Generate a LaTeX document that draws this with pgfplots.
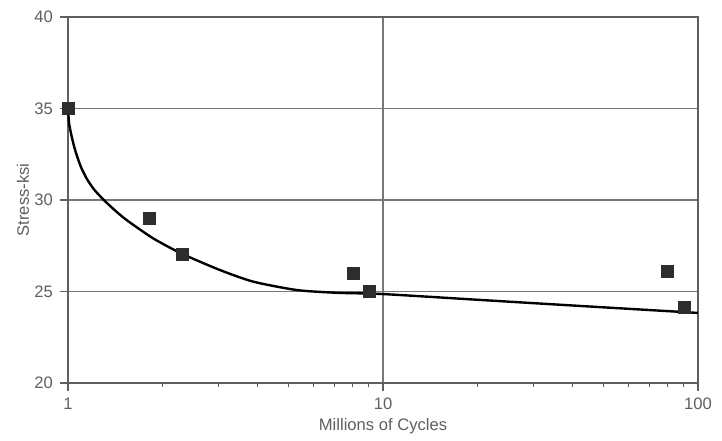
\documentclass[border=0pt]{standalone}
\usepackage{pgfplots}
\pgfplotsset{compat=1.18}
\usepackage{fontspec}
\setmainfont{Liberation Sans}
\definecolor{axgray}{RGB}{95,95,95}
\definecolor{gridgray}{RGB}{120,120,120}
\definecolor{markgray}{RGB}{45,45,45}
\begin{document}
\begin{tikzpicture}
\begin{axis}[
  name=ax,
  scale only axis,
  width=315pt, height=183pt,
  xmode=log, log basis x=10,
  xmin=1, xmax=100, ymin=20, ymax=40,
  xtick={1,10,100}, xticklabels={1,10,100},
  ytick={20,25,30,35,40},
  minor xtick={2,3,4,5,6,7,8,9,20,30,40,50,60,70,80,90},
  log ticks with fixed point,
  /pgf/number format/assume math mode=true,
  tick label style={font=\fontsize{8.3}{10}\selectfont, text=axgray},
  label style={font=\fontsize{8.3}{10}\selectfont, text=axgray},
  xlabel={Millions of Cycles},
  ylabel={Stress-ksi},
  xlabel style={at={(axis description cs:0.5,0)}, anchor=north, yshift=-14pt},
  ylabel style={at={(axis description cs:0,0.5)}, anchor=south, xshift=0pt, yshift=16pt},
  axis line style={axgray, line width=0.8pt},
  every tick/.style={axgray, line width=0.6pt},
  major tick length=4pt, minor tick length=2pt,
  tick align=outside,
  xtick pos=bottom, ytick pos=left,
  ymajorgrids, xmajorgrids,
  major grid style={gridgray, line width=0.6pt},
  clip=false,
]
\addplot[black, line width=1.2pt, smooth, tension=0.4] coordinates {
  (1,35) (1.0073,34.23) (1.0147,33.91) (1.0274,33.47) (1.0448,32.95)
  (1.0657,32.45) (1.0997,31.80) (1.1465,31.17) (1.2093,30.58) (1.2942,30.03)
  (1.3996,29.48) (1.5357,28.90) (1.8656,27.90) (2.295,27.07) (3.04,26.17)
  (3.87,25.54) (5.32,25.08) (7.13,24.93) (10,24.86) (20.3,24.54)
  (42.3,24.21) (100,23.83)
};
\addplot[only marks, mark=square*, mark size=3pt, mark options={fill=markgray, draw=markgray}] coordinates {
  (1,35) (1.81,29) (2.3,27) (8.03,26) (9.03,25) (79.7,26.1) (90.3,24.15)
};
\end{axis}
\path ([xshift=-34pt,yshift=-26pt]ax.south west) rectangle ([xshift=12pt,yshift=8.5pt]ax.north east);
\end{tikzpicture}
\end{document}
